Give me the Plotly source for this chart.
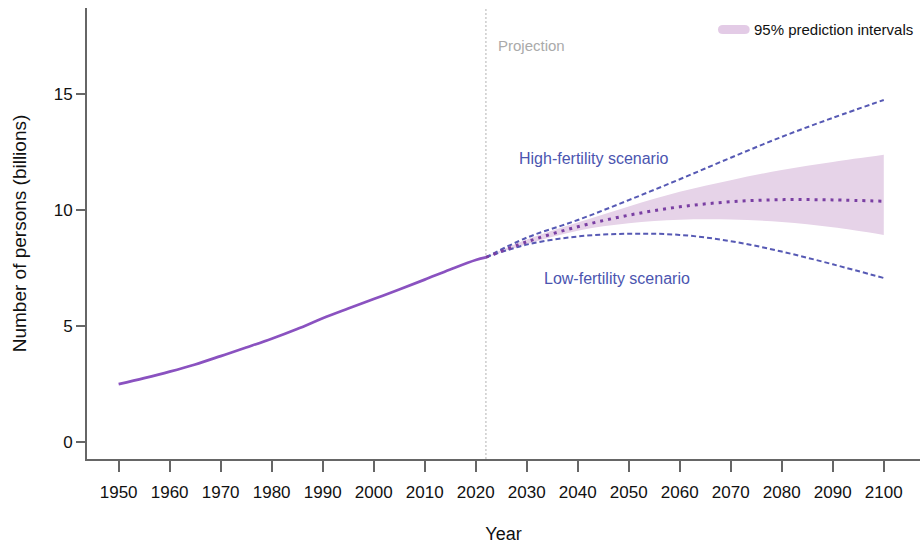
import plotly.graph_objects as go

# World population estimates, billions
hist_years = [1950, 1955, 1960, 1965, 1970, 1975, 1980, 1985, 1990, 1995,
              2000, 2005, 2010, 2015, 2020, 2022]
hist_pop = [2.48, 2.74, 3.02, 3.33, 3.69, 4.06, 4.44, 4.86, 5.32, 5.74,
            6.15, 6.56, 6.99, 7.43, 7.84, 7.95]

# Projections from 2022 onward
proj_years = [2022, 2030, 2040, 2050, 2060, 2070, 2080, 2090, 2100]
median_pop = [7.95, 8.62, 9.27, 9.77, 10.13, 10.35, 10.44, 10.43, 10.37]
upper_pi = [7.95, 8.72, 9.45, 10.15, 10.78, 11.28, 11.72, 12.07, 12.38]
lower_pi = [7.95, 8.52, 9.10, 9.42, 9.57, 9.58, 9.48, 9.25, 8.92]
high_fert = [7.95, 8.80, 9.56, 10.42, 11.32, 12.25, 13.15, 13.97, 14.74]
low_fert = [7.95, 8.50, 8.85, 8.97, 8.92, 8.65, 8.20, 7.65, 7.06]

x_ticks = list(range(1950, 2101, 10))
y_ticks = [0, 5, 10, 15]

FONT = "Liberation Sans, Arial, sans-serif"
BAND = "#e6d3e8"
SCEN = "#5659b4"

fig = go.Figure()

# 95% prediction band
fig.add_trace(go.Scatter(x=proj_years, y=lower_pi, mode="lines",
                         line=dict(width=0, shape="spline"),
                         showlegend=False, hoverinfo="skip"))
fig.add_trace(go.Scatter(x=proj_years, y=upper_pi, mode="lines",
                         line=dict(width=0, shape="spline"), fill="tonexty",
                         fillcolor=BAND, showlegend=False, hoverinfo="skip"))

# Scenario lines
fig.add_trace(go.Scatter(x=proj_years, y=high_fert, mode="lines",
                         line=dict(color=SCEN, width=2, dash="5px,3px",
                                   shape="spline"), showlegend=False))
fig.add_trace(go.Scatter(x=proj_years, y=low_fert, mode="lines",
                         line=dict(color=SCEN, width=2, dash="5px,3px",
                                   shape="spline"), showlegend=False))

# Median projection
fig.add_trace(go.Scatter(x=proj_years, y=median_pop, mode="lines",
                         line=dict(color="#7a3fa3", width=3, dash="3px,5px",
                                   shape="spline"), showlegend=False))

# Observed population
fig.add_trace(go.Scatter(x=hist_years, y=hist_pop, mode="lines",
                         line=dict(color="#8a52c0", width=2.7, shape="spline"),
                         showlegend=False))

# Start of projection period
fig.add_shape(type="line", x0=2022, x1=2022, xref="x", y0=0, y1=1, yref="paper",
              line=dict(color="#cccccc", width=1.5, dash="2px,2px"), layer="below")

fig.add_annotation(x=2024, y=17.1, xref="x", yref="y", text="Projection",
                   showarrow=False, xanchor="left", yanchor="middle",
                   font=dict(family=FONT, size=15, color="#aaaaaa"))
fig.add_annotation(x=2028, y=12.2, xref="x", yref="y", text="High-fertility scenario",
                   showarrow=False, xanchor="left", yanchor="middle",
                   font=dict(family=FONT, size=16, color="#4b55b0"))
fig.add_annotation(x=2033, y=7.05, xref="x", yref="y", text="Low-fertility scenario",
                   showarrow=False, xanchor="left", yanchor="middle",
                   font=dict(family=FONT, size=16, color="#4b55b0"))

# Legend entry for the band
fig.add_shape(type="path", xref="paper", yref="paper",
              path="M 0.7635 0.9422 L 0.7895 0.9422 Q 0.7955 0.9422 0.7955 0.9522 "
                   "Q 0.7955 0.9622 0.7895 0.9622 L 0.7635 0.9622 "
                   "Q 0.7575 0.9622 0.7575 0.9522 Q 0.7575 0.9422 0.7635 0.9422 Z",
              fillcolor="#e3cbe6", line=dict(width=0))
fig.add_annotation(x=0.7985, y=0.9522, xref="paper", yref="paper",
                   text="95% prediction intervals", showarrow=False,
                   xanchor="left", yanchor="middle",
                   font=dict(family=FONT, size=15, color="#111111"))

fig.update_layout(
    width=920, height=545,
    margin=dict(l=87, r=0, t=8, b=86),
    plot_bgcolor="white", paper_bgcolor="white",
    font=dict(family=FONT, color="#111111"),
    xaxis=dict(range=[1943.8, 2107.1], tickvals=x_ticks,
               ticktext=[str(v) for v in x_ticks],
               showgrid=False, zeroline=False, showline=True,
               linecolor="#666666", linewidth=2,
               ticks="outside", ticklen=11, tickwidth=1.5, tickcolor="#666666",
               tickfont=dict(size=17, color="#111111"),
               ticklabelstandoff=6,
               title=dict(text="Year", font=dict(size=18), standoff=26)),
    yaxis=dict(range=[-0.75, 18.71], tickvals=y_ticks,
               showgrid=False, zeroline=False, showline=True,
               linecolor="#666666", linewidth=2,
               ticks="outside", ticklen=9, tickwidth=1.5, tickcolor="#666666",
               tickfont=dict(size=17, color="#111111"),
               title=dict(text="Number of persons (billions)", font=dict(size=19),
                          standoff=22)),
)

fig.write_html("out.html")
